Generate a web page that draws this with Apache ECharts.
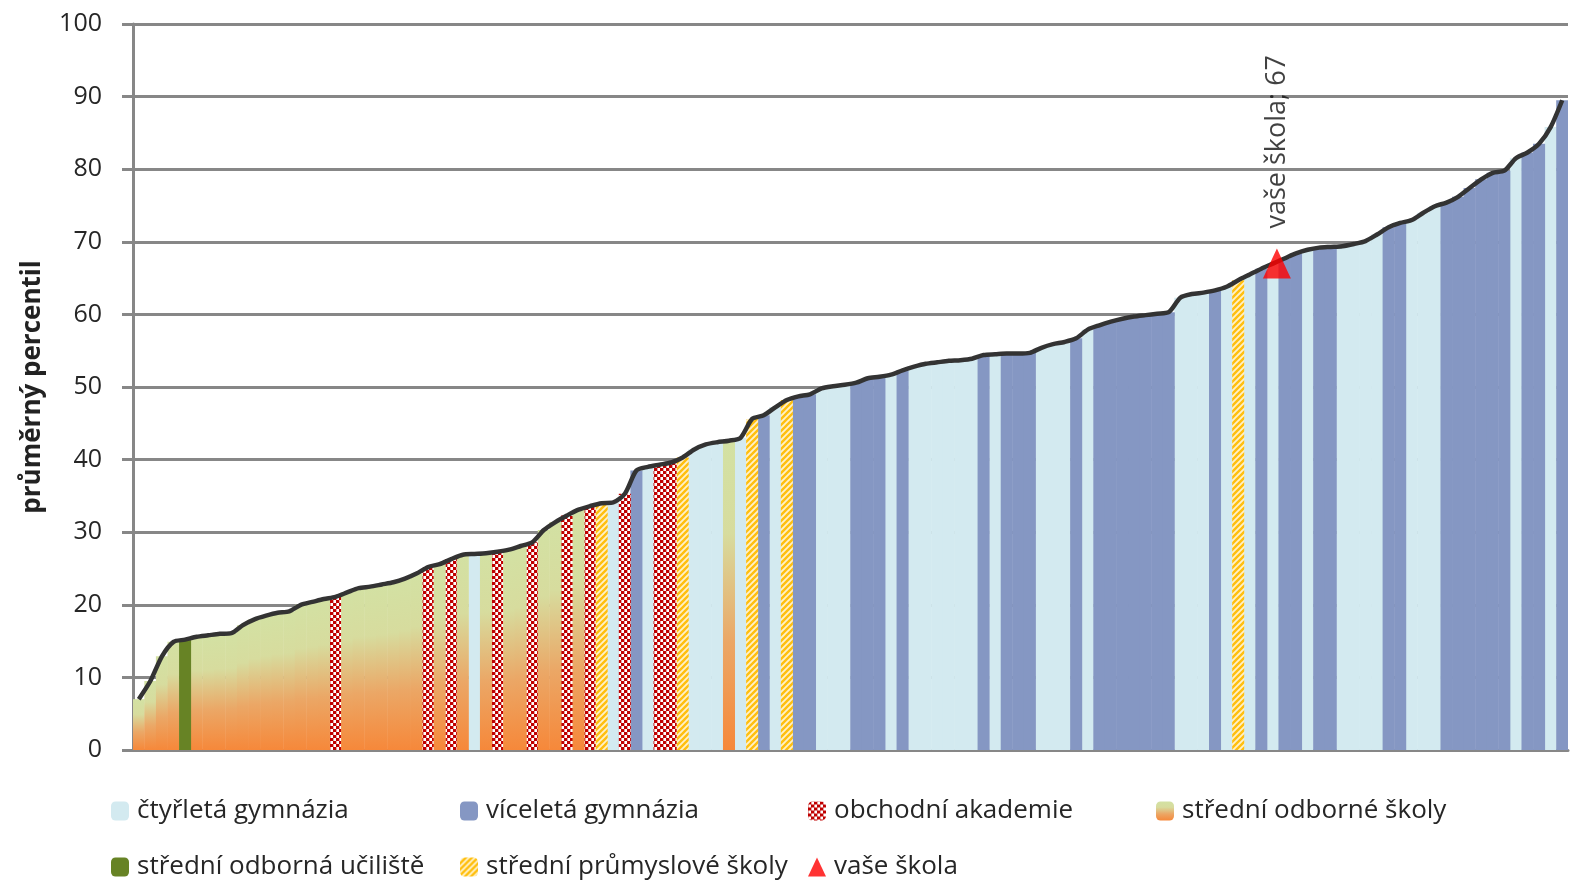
<!DOCTYPE html>
<html><head><meta charset="utf-8">
<script src="https://cdn.jsdelivr.net/npm/echarts@6/dist/echarts.min.js"></script>
<style>html,body{margin:0;padding:0;background:#fff}#c{width:1574px;height:881px}</style>
</head><body><div id="c"></div>
<script>
// average percentile of each school, sorted ascending
const values = [
  7.0, 9.5, 12.9, 14.9, 15.2, 15.6, 15.8, 16.0, 16.1, 17.2,
  18.0, 18.5, 18.9, 19.1, 20.0, 20.4, 20.8, 21.1, 21.7, 22.3,
  22.5, 22.8, 23.1, 23.6, 24.3, 25.2, 25.6, 26.3, 26.9, 27.0,
  27.1, 27.3, 27.6, 28.1, 28.6, 30.3, 31.4, 32.3, 33.1, 33.6,
  34.0, 34.1, 35.3, 38.5, 39.0, 39.3, 39.6, 40.3, 41.4, 42.1,
  42.4, 42.6, 43.0, 45.6, 46.1, 47.2, 48.2, 48.7, 49.0, 49.8,
  50.1, 50.3, 50.6, 51.2, 51.4, 51.7, 52.3, 52.8, 53.2, 53.4,
  53.6, 53.7, 53.9, 54.4, 54.5, 54.6, 54.6, 54.7, 55.4, 55.9,
  56.2, 56.7, 57.9, 58.5, 59.0, 59.4, 59.7, 59.9, 60.1, 60.3,
  62.3, 62.8, 63.0, 63.3, 63.8, 64.7, 65.5, 66.3, 67.0, 67.7,
  68.4, 68.9, 69.2, 69.3, 69.4, 69.7, 70.1, 71.0, 72.0, 72.6,
  73.0, 74.0, 74.9, 75.4, 76.2, 77.4, 78.6, 79.5, 79.8, 81.5,
  82.3, 83.5, 85.8, 89.5
];
// school type of each school (C čtyřleté gym., V víceleté gym., O obch. akademie, S SOŠ, U SOU, P SPŠ)
const schoolTypes = [
  'S','S','S','S','U','S','S','S','S','S','S','S','S','S','S','S','S','O','S','S','S','S','S','S','S',
  'O','S','O','S','C','S','O','S','S','O','S','S','O','S','O','P','C','O',
  'V','C','O','O','P','C','C','C','S','C','P','V','C','P','V','V',
  'C','C','C','V','V','V','C','V','C','C','C','C','C','C','V','C','V','V','V','C','C','C','V','C','V','V','V','V','V','V','V',
  'C','C','C','V','C','P','C','V','C','V','V','C','V','V','C','C','C','C','V','V','C','C','C','V','V','V','V','V','V','C','V','V','C','V'
];
const categories = values.map((v, i) => 'škola ' + (i + 1));
const typeCodes = ['C', 'V', 'O', 'S', 'U', 'P'];
const typeNames = {
  C: 'čtyřletá gymnázia',
  V: 'víceletá gymnázia',
  O: 'obchodní akademie',
  S: 'střední odborné školy',
  U: 'střední odborná učiliště',
  P: 'střední průmyslové školy'
};
const yourSchoolName = 'vaše škola';
const yourSchoolIndex = 98;
const yourSchoolValue = 67;
const yTicks = [0, 10, 20, 30, 40, 50, 60, 70, 80, 90, 100];

function makePattern(draw, w, h) {
  const c = document.createElement('canvas');
  c.width = w; c.height = h;
  draw(c.getContext('2d'));
  return { image: c, repeat: 'repeat' };
}
const oaPattern = makePattern(function (g) {
  g.fillStyle = '#ffffff'; g.fillRect(0, 0, 6, 6);
  g.fillStyle = '#c00000'; g.fillRect(0, 0, 3, 3); g.fillRect(3, 3, 3, 3);
  g.fillStyle = '#e6a3a3'; g.fillRect(3, 0, 1, 3); g.fillRect(0, 3, 1, 3);
}, 6, 6);
const spsPattern = makePattern(function (g) {
  g.fillStyle = '#fff1c8'; g.fillRect(0, 0, 6, 6);
  g.strokeStyle = '#ffbf0f'; g.lineWidth = 2.4;
  g.beginPath();
  g.moveTo(-1, 7); g.lineTo(7, -1);
  g.moveTo(-4, 4); g.lineTo(4, -4);
  g.moveTo(2, 10); g.lineTo(10, 2);
  g.stroke();
}, 6, 6);
const sosGradient = new echarts.graphic.LinearGradient(0, 0, 0, 1, [
  { offset: 0, color: '#d3e1a3' },
  { offset: 0.3, color: '#d7dc9e' },
  { offset: 0.65, color: '#eba766' },
  { offset: 1, color: '#f6883a' }
]);
const typeColors = {
  C: '#d3eaf0',
  V: '#8597c3',
  O: oaPattern,
  S: sosGradient,
  U: '#678325',
  P: spsPattern
};

const series = typeCodes.map(t => ({
  name: typeNames[t],
  type: 'bar',
  barWidth: '104%',
  barGap: '-100%',
  itemStyle: { color: typeColors[t] },
  data: values.map((v, i) => schoolTypes[i] === t ? v : '-'),
  z: 2
}));
series.push({
  name: 'průměr',
  type: 'line',
  data: values,
  smooth: 0.25,
  symbol: 'none',
  lineStyle: { color: '#333333', width: 4.5 },
  z: 5
});
series.push({
  name: yourSchoolName,
  type: 'scatter',
  symbol: 'triangle',
  symbolSize: [28, 30],
  symbolOffset: [4, 0],
  itemStyle: { color: '#ff0000' },
  data: values.map((v, i) => i === yourSchoolIndex ? yourSchoolValue : '-'),
  label: {
    show: true,
    position: 'top',
    distance: 20,
    rotate: 90,
    align: 'left',
    verticalAlign: 'middle',
    formatter: yourSchoolName + '; ' + yourSchoolValue,
    fontFamily: 'Open Sans',
    fontSize: 27,
    color: '#111'
  },
  z: 6
});

function legendAt(name, left, top, icon) {
  return {
    data: [icon ? { name: name, icon: icon } : name],
    left: left, top: top, padding: 0,
    itemWidth: 18, itemHeight: 19,
    textStyle: { fontFamily: 'Open Sans', fontSize: 26, color: '#262626', padding: [0, 0, 0, 3], lineHeight: 30 },
    selectedMode: false
  };
}
const legends = [
  legendAt(typeNames.C, 111, 796),
  legendAt(typeNames.V, 460, 796),
  legendAt(typeNames.O, 808, 796),
  legendAt(typeNames.S, 1156, 796),
  legendAt(typeNames.U, 111, 852),
  legendAt(typeNames.P, 460, 852),
  legendAt(yourSchoolName, 808, 852, 'triangle')
];

const chart = echarts.init(document.getElementById('c'));
chart.setOption({
  animation: false,
  backgroundColor: '#ffffff',
  grid: { left: 133, right: 6, top: 24, bottom: 131 },
  legend: legends,
  xAxis: {
    type: 'category',
    data: categories,
    boundaryGap: true,
    axisLine: { lineStyle: { color: '#878787', width: 3 } },
    axisTick: { show: false },
    axisLabel: { show: false },
    splitLine: { show: false }
  },
  yAxis: {
    type: 'value',
    min: yTicks[0],
    max: yTicks[yTicks.length - 1],
    interval: 10,
    name: 'průměrný percentil',
    nameLocation: 'middle',
    nameGap: 87,
    nameTextStyle: { fontFamily: 'Open Sans', fontSize: 26, fontWeight: 'bold', color: '#222' },
    axisLine: { show: true, lineStyle: { color: '#878787', width: 3 } },
    axisTick: { show: true, inside: false, length: 11, lineStyle: { color: '#878787', width: 3 } },
    axisLabel: { margin: 31, fontFamily: 'Open Sans', fontSize: 25, color: '#262626' },
    splitLine: { show: true, lineStyle: { color: '#878787', width: 3 } }
  },
  series: series
});
</script>
</body></html>
